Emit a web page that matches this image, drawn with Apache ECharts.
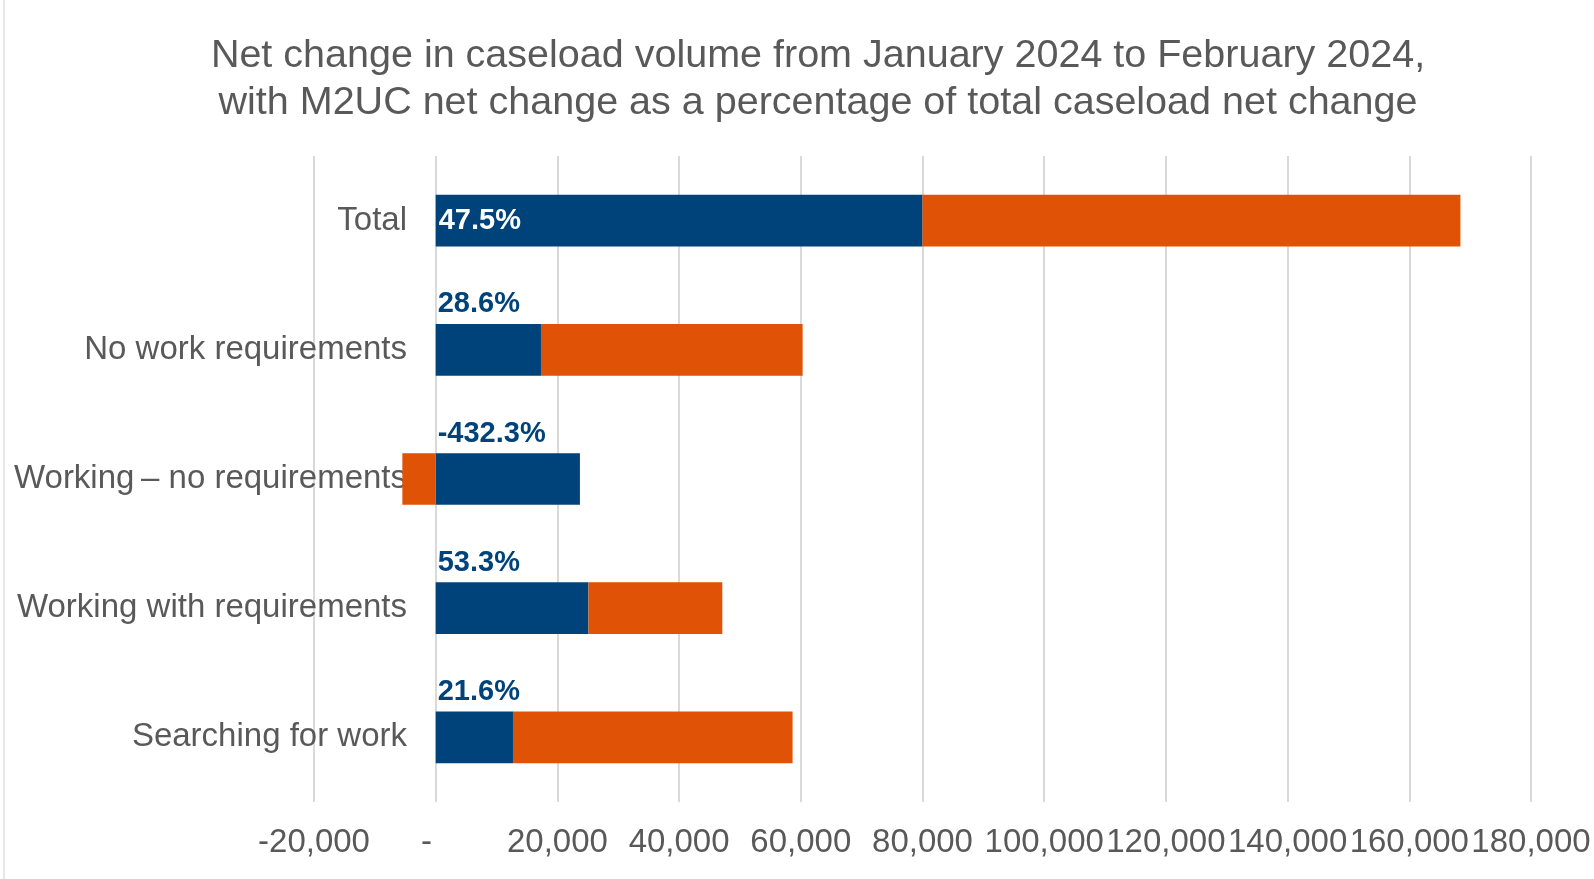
<!DOCTYPE html>
<html>
<head>
<meta charset="utf-8">
<script src="https://cdn.jsdelivr.net/npm/echarts@6/dist/echarts.min.js"></script>
<style>
  html, body { margin: 0; padding: 0; background: #fff; }
  #chart { width: 1594px; height: 879px; }
</style>
</head>
<body>
<div id="chart"></div>
<script>
"use strict";

var categories = [
  "Total",
  "No work requirements",
  "Working\u2009\u2013 no requirements",
  "Working with requirements",
  "Searching for work"
];
// M2UC net change (blue)
var m2ucValues = [80000, 17300, 23700, 25100, 12700];
// rest of the net change (orange)
var otherValues = [88400, 43000, -5480, 22000, 45950];
var pctLabels = ["47.5%", "28.6%", "-432.3%", "53.3%", "21.6%"];

var FONT = "Liberation Sans, Arial, sans-serif";
var GREY = "#595959";
var BLUE = "#00437a";
var ORANGE = "#e05206";

var chart = echarts.init(document.getElementById("chart"));

// Total label sits inside the bar, the rest sit just above the bar start
var m2ucData = m2ucValues.map(function (v, i) {
  if (i === 0) {
    return {
      value: v,
      label: { position: "insideLeft", distance: 3, color: "#fff" }
    };
  }
  return {
    value: v,
    label: { position: [2, -5], align: "left", verticalAlign: "bottom", color: BLUE }
  };
});

chart.setOption({
  animation: false,
  title: {
    text: "Net change in caseload volume from January 2024 to February 2024,\nwith M2UC net change as a percentage of total caseload net change",
    left: 813,
    textAlign: "center",
    top: 28,
    textStyle: {
      fontFamily: FONT,
      fontSize: 39.5,
      fontWeight: "normal",
      color: GREY,
      lineHeight: 47
    }
  },
  grid: {
    left: 314,
    right: 63,
    top: 156,
    bottom: 77,
    outerBoundsMode: "none",
    containLabel: false
  },
  xAxis: {
    type: "value",
    min: -20000,
    max: 180000,
    interval: 20000,
    axisLine: { show: false },
    axisTick: { show: false },
    splitLine: { lineStyle: { color: "#d9d9d9", width: 2 } },
    axisLabel: {
      fontFamily: FONT,
      fontSize: 33,
      color: GREY,
      margin: 24,
      hideOverlap: false,
      showMinLabel: true,
      showMaxLabel: true,
      formatter: function (v) {
        if (v === 0) return "-  ";
        return echarts.format.addCommas(v);
      }
    }
  },
  yAxis: {
    type: "category",
    inverse: true,
    data: categories,
    axisLine: { show: false },
    axisTick: { show: false },
    axisLabel: {
      fontFamily: FONT,
      fontSize: 33,
      color: GREY,
      margin: -93
    }
  },
  series: [
    {
      name: "M2UC",
      type: "bar",
      stack: "net",
      barWidth: "40%",
      data: m2ucData,
      itemStyle: { color: BLUE },
      label: {
        show: true,
        fontFamily: FONT,
        fontSize: 29,
        fontWeight: "bold",
        formatter: function (p) { return pctLabels[p.dataIndex]; }
      }
    },
    {
      name: "Other",
      type: "bar",
      stack: "net",
      data: otherValues,
      itemStyle: { color: ORANGE }
    }
  ],
  graphic: [
    {
      type: "line",
      shape: { x1: 4, y1: 0, x2: 4, y2: 879 },
      style: { stroke: "#d0d0d0", lineWidth: 1 }
    }
  ]
});
</script>
</body>
</html>
